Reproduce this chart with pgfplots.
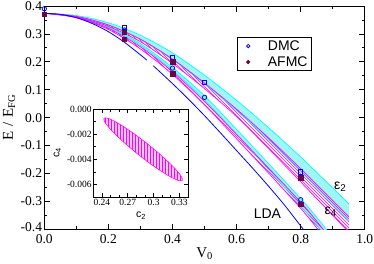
\documentclass[border=0pt]{standalone}
\usepackage{fontspec}
\setmainfont{Liberation Serif}
\newfontfamily\sansf{Liberation Sans}
\usepackage{pgfplots}
\usepackage{pgfplotstable}
\pgfplotsset{compat=1.18}
\usepgfplotslibrary{fillbetween}
\usetikzlibrary{patterns}
\definecolor{mycyan}{RGB}{0,255,255}
\definecolor{cyanfill}{RGB}{160,245,245}
\definecolor{mymag}{RGB}{255,0,255}
\definecolor{maroon}{RGB}{103,7,72}
\definecolor{myblue}{RGB}{0,0,255}

\pgfplotstableread{
V C2t C2b M2t M2b
0 0.374 0.374 0.374 0.374
0.1 0.366 0.363 0.363 0.361
0.2 0.340 0.332 0.332 0.327
0.3 0.295 0.280 0.281 0.272
0.4 0.232 0.208 0.210 0.194
0.5 0.152 0.121 0.124 0.104
0.6 0.062 0.025 0.030 0.004
0.7 -0.036 -0.080 -0.073 -0.111
0.8 -0.141 -0.193 -0.183 -0.230
0.9 -0.252 -0.310 -0.297 -0.350
0.95 -0.309 -0.371 -0.355 -0.410
}\tabUp

\pgfplotstableread{
V C4t C4b M4t M4b
0 0.374 0.374 0.374 0.374
0.1 0.362 0.361 0.360 0.358
0.2 0.325 0.322 0.320 0.316
0.3 0.265 0.259 0.254 0.246
0.4 0.180 0.170 0.165 0.155
0.5 0.078 0.064 0.058 0.046
0.6 -0.042 -0.060 -0.060 -0.076
0.7 -0.165 -0.187 -0.181 -0.199
0.8 -0.290 -0.316 -0.303 -0.325
0.85 -0.357 -0.385 -0.371 -0.395
0.9 -0.430 -0.460 -0.445 -0.471
}\tabLo

\pgfplotstableread{
V E
0 0.374
0.05 0.370
0.1 0.358
0.15 0.337
0.2 0.308
0.25 0.270
0.3 0.225
0.32 0.206
}\tabLdaA

\pgfplotstableread{
V E
0.34 0.186
0.4 0.122
0.45 0.066
0.5 0.007
0.55 -0.055
0.6 -0.118
0.65 -0.181
0.7 -0.246
0.75 -0.314
0.8 -0.388
0.82 -0.418
}\tabLdaB

\begin{document}
\begin{tikzpicture}
\begin{axis}[
  at={(0pt,0pt)}, anchor=south west,
  scale only axis, width=320.5pt, height=223.3pt,
  xmin=0, xmax=1, ymin=-0.4, ymax=0.4,
  xtick={0,0.2,0.4,0.6,0.8,1.0},
  xticklabels={0.0,0.2,0.4,0.6,0.8,1.0},
  minor xtick={0.1,0.3,0.5,0.7,0.9},
  ytick={-0.4,-0.3,-0.2,-0.1,0,0.1,0.2,0.3,0.4},
  yticklabels={\raisebox{1.8pt}[\height][0pt]{-0.4},-0.3,-0.2,-0.1,0.0,0.1,0.2,0.3,0.4},
  minor ytick={-0.35,-0.25,-0.15,-0.05,0.05,0.15,0.25,0.35},
  scaled x ticks=false, scaled y ticks=false,
  tick label style={font=\fontsize{13.5}{15}\selectfont},
  xticklabel style={inner ysep=4.8pt},
  yticklabel style={inner xsep=2pt, inner ysep=0pt},
  major tick length=5.5pt, minor tick length=3pt,
  tick style={line width=0.8pt, black},
  axis line style={line width=0.8pt},
  every axis x label/.style={at={(axis description cs:0.5,-0.11)}, anchor=center},
  every axis y label/.style={at={(axis description cs:-0.11,0.5)}, anchor=center, rotate=90},
  label style={font=\fontsize{15}{17}\selectfont},
  xlabel={V\textsubscript{0}},
  ylabel={E\hspace{5pt}/\hspace{5pt}E\textsubscript{FG}},
  legend style={at={(0.600,0.860)}, anchor=north west, draw=black, line width=0.6pt,
    font=\sansf\fontsize{14}{16}\selectfont, inner xsep=3pt, inner ysep=1.5pt,
    row sep=2pt, nodes={inner sep=1pt, text height=10pt, text depth=2pt}},
  legend image code/.code={\path[draw=none] (0pt,0pt) -- (27pt,0pt);
    \draw[#1] plot coordinates {(8.3pt,0pt)};},
  legend cell align=left,
]
% boundaries (invisible, for fills)
\addplot[draw=none, smooth, name path=C2t, forget plot] table[x=V,y=C2t]{\tabUp};
\addplot[draw=none, smooth, name path=C2b, forget plot] table[x=V,y=C2b]{\tabUp};
\addplot[draw=none, smooth, name path=M2t, forget plot] table[x=V,y=M2t]{\tabUp};
\addplot[draw=none, smooth, name path=M2b, forget plot] table[x=V,y=M2b]{\tabUp};
\addplot[draw=none, smooth, name path=C4t, forget plot] table[x=V,y=C4t]{\tabLo};
\addplot[draw=none, smooth, name path=C4b, forget plot] table[x=V,y=C4b]{\tabLo};
\addplot[draw=none, smooth, name path=M4t, forget plot] table[x=V,y=M4t]{\tabLo};
\addplot[draw=none, smooth, name path=M4b, forget plot] table[x=V,y=M4b]{\tabLo};
% fills
\addplot[cyanfill, forget plot] fill between[of=C2t and C2b];
\addplot[cyanfill, forget plot] fill between[of=C4t and C4b];
\addplot[pattern=north west lines, pattern color=mymag, forget plot] fill between[of=M2t and M2b];
\addplot[pattern=north west lines, pattern color=mymag, forget plot] fill between[of=M4t and M4b];
% boundary lines
\addplot[mycyan, line width=0.7pt, smooth, forget plot] table[x=V,y=C2t]{\tabUp};
\addplot[mycyan, line width=0.7pt, smooth, forget plot] table[x=V,y=C2b]{\tabUp};
\addplot[mycyan, line width=0.7pt, smooth, forget plot] table[x=V,y=C4t]{\tabLo};
\addplot[mycyan, line width=0.7pt, smooth, forget plot] table[x=V,y=C4b]{\tabLo};
\addplot[mymag, line width=0.7pt, smooth, forget plot] table[x=V,y=M2t]{\tabUp};
\addplot[mymag, line width=0.7pt, smooth, forget plot] table[x=V,y=M2b]{\tabUp};
\addplot[mymag, line width=0.7pt, smooth, forget plot] table[x=V,y=M4t]{\tabLo};
\addplot[mymag, line width=0.7pt, smooth, forget plot] table[x=V,y=M4b]{\tabLo};
% LDA
\addplot[myblue, line width=0.8pt, smooth, forget plot] table[x=V,y=E]{\tabLdaA};
\addplot[myblue, line width=0.8pt, smooth, forget plot] table[x=V,y=E]{\tabLdaB};
% DMC
\addplot[only marks, mark=square, mark size=2.1pt, myblue, line width=0.8pt, forget plot]
  coordinates {(0.25,0.3226) (0.4,0.217) (0.5,0.1275) (0.8,-0.194)};
\addplot[only marks, mark=o, mark size=2.2pt, myblue, line width=0.8pt, forget plot]
  coordinates {(0,0.390) (0.25,0.314) (0.4,0.1775) (0.5,0.0726) (0.8,-0.294)};
% AFMC
\addplot[only marks, mark=square*, mark size=2.2pt, maroon, forget plot]
  coordinates {(0,0.371) (0.25,0.306) (0.25,0.282) (0.4,0.201) (0.4,0.157) (0.8,-0.215) (0.8,-0.309)};
\addlegendimage{only marks, mark=o, mark size=1.7pt, myblue, line width=0.8pt}
\addlegendentry{DMC}
\addlegendimage{only marks, mark=*, mark size=1.8pt, maroon}
\addlegendentry{AFMC}
\node[font=\sansf\fontsize{14}{16}\selectfont] at (axis cs:0.696,-0.345) {LDA};
\node[font=\sansf\fontsize{14}{16}\selectfont] at (axis cs:0.923,-0.248) {ε\textsubscript{2}};
\node[font=\sansf\fontsize{14}{16}\selectfont] at (axis cs:0.894,-0.338) {ε\textsubscript{4}};
\end{axis}
\begin{axis}[
  at={(49pt,32.3pt)}, anchor=south west,
  scale only axis, width=94.7pt, height=88pt,
  xmin=0.23, xmax=0.34, ymin=-0.007, ymax=0,
  axis background/.style={fill=white},
  xtick={0.24,0.27,0.30,0.33},
  xticklabels={0.24,0.27,0.3,0.33},
  minor xtick={0.23,0.25,0.26,0.28,0.29,0.31,0.32,0.34},
  ytick={-0.006,-0.004,-0.002,0},
  yticklabels={-0.006,-0.004,-0.002,0.000},
  minor ytick={-0.007,-0.005,-0.003,-0.001},
  scaled x ticks=false, scaled y ticks=false,
  tick label style={font=\fontsize{9.5}{10}\selectfont},
  xticklabel style={inner ysep=1.5pt},
  yticklabel style={inner xsep=1.5pt},
  major tick length=4pt, minor tick length=2.5pt,
  tick style={line width=0.7pt, black},
  axis line style={line width=0.7pt},
  every axis x label/.style={at={(axis description cs:0.504,-0.21)}, anchor=center},
  every axis y label/.style={at={(axis description cs:-0.38,0.5)}, anchor=center, rotate=90},
  label style={font=\sansf\fontsize{10.5}{12}\selectfont},
  xlabel={c\textsubscript{2}},
  ylabel={c\textsubscript{4}},
]
\addplot[draw=none, fill=mymag!22, smooth] coordinates {
(0.2931,-0.002783) (0.2753,-0.001868) (0.2594,-0.001157) (0.2478,-0.000759)
(0.2424,-0.000735) (0.2438,-0.001089) (0.2520,-0.001765) (0.2657,-0.002662)
(0.2827,-0.003643) (0.3005,-0.004558) (0.3164,-0.005269) (0.3280,-0.005667)
(0.3334,-0.005691) (0.3320,-0.005337) (0.3238,-0.004661) (0.3101,-0.003764)
(0.2931,-0.002783)};
\addplot[mymag, line width=0.6pt, pattern=vertical lines, pattern color=mymag, smooth] coordinates {
(0.2931,-0.002783) (0.2753,-0.001868) (0.2594,-0.001157) (0.2478,-0.000759)
(0.2424,-0.000735) (0.2438,-0.001089) (0.2520,-0.001765) (0.2657,-0.002662)
(0.2827,-0.003643) (0.3005,-0.004558) (0.3164,-0.005269) (0.3280,-0.005667)
(0.3334,-0.005691) (0.3320,-0.005337) (0.3238,-0.004661) (0.3101,-0.003764)
(0.2931,-0.002783)};
\end{axis}
\pgfresetboundingbox
\path[use as bounding box] (-44.3pt,-33.7pt) rectangle (329.7pt,229.3pt);
\end{tikzpicture}
\end{document}
